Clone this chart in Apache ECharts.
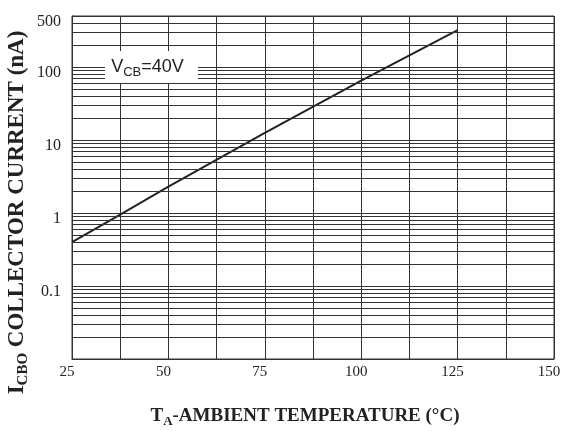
<!DOCTYPE html>
<html>
<head>
<meta charset="utf-8">
<script src="https://cdn.jsdelivr.net/npm/echarts@6/dist/echarts.min.js"></script>
<style>html,body{margin:0;padding:0;background:#fff;}#c{width:561px;height:431px;}</style>
</head>
<body>
<div id="c"></div>
<script>
// Data
var temperature = [25, 37.5, 50, 75, 100, 125];
var currentNA = [0.4, 0.95, 2.3, 12.5, 65, 320];
var yMajorLabels = [500, 100, 10, 1, 0.1];
var xLabels = [25, 50, 75, 100, 125, 150];
var minorGridValues = [];
[0.01, 0.1, 1, 10].forEach(function (d) {
  for (var k = 2; k <= 9; k++) minorGridValues.push(+(d * k).toPrecision(6));
});
[200, 300, 400].forEach(function (v) { minorGridValues.push(v); });
var annotationText = { main: 'V', sub: 'CB', rest: '=40V', x: 45.6, y: 100 };

var GRID = '#333';
var chart = echarts.init(document.getElementById('c'));
chart.setOption({
  animation: false,
  backgroundColor: '#fff',
  grid: { left: 72, right: 7, top: 16, bottom: 72, show: true, borderColor: GRID, borderWidth: 1,
          containLabel: false, outerBoundsMode: 'none' },
  xAxis: {
    type: 'value', min: 25, max: 150, interval: 12.5,
    axisLine: { show: true, lineStyle: { color: GRID, width: 1 } },
    axisTick: { show: false },
    splitLine: { show: true, lineStyle: { color: GRID, width: 1 } },
    axisLabel: {
      color: '#222', fontFamily: 'Liberation Serif', fontSize: 15, margin: 6,
      padding: [0, 10, 0, 0],
      formatter: function (v) { return xLabels.indexOf(v) >= 0 ? String(v) : ''; }
    },
    name: '{m|T}{s|A}{m|-AMBIENT TEMPERATURE (°C)}',
    nameLocation: 'middle', nameGap: 46, nameMoveOverlap: false,
    nameTextStyle: {
      padding: [0, 16, 0, 0],
      rich: {
        m: { fontFamily: 'Liberation Serif', fontSize: 19, fontWeight: 'bold', color: '#222' },
        s: { fontFamily: 'Liberation Serif', fontSize: 13, fontWeight: 'bold', color: '#222', padding: [10, 0, 0, 0] }
      }
    }
  },
  yAxis: {
    type: 'log', logBase: 10, min: 0.01, max: 500,
    axisLine: { show: true, lineStyle: { color: GRID, width: 1 } },
    axisTick: { show: false },
    splitLine: { show: true, lineStyle: { color: GRID, width: 1 } },
    axisLabel: {
      color: '#222', fontFamily: 'Liberation Serif', fontSize: 16, margin: 11,
      verticalAlign: 'top', lineHeight: 12,
      formatter: function (v) {
        var r = parseFloat((+v).toPrecision(6));
        return yMajorLabels.indexOf(r) >= 0 ? String(r) : '';
      }
    },
    name: '{m|I}{s|CBO}{m| COLLECTOR CURRENT (nA)}',
    nameLocation: 'middle', nameGap: 41, nameMoveOverlap: false,
    nameTextStyle: {
      padding: [0, 50, 0, 0],
      rich: {
        m: { fontFamily: 'Liberation Serif', fontSize: 23, fontWeight: 'bold', color: '#222' },
        s: { fontFamily: 'Liberation Serif', fontSize: 15, fontWeight: 'bold', color: '#222', padding: [12, 0, 0, 0] }
      }
    }
  },
  series: [
    {
      type: 'line', data: [], silent: true, z: 1,
      markLine: {
        silent: true, symbol: ['none', 'none'], animation: false,
        label: { show: false },
        lineStyle: { color: GRID, width: 1, type: 'solid' },
        data: minorGridValues.map(function (v) { return { yAxis: v }; })
      }
    },
    {
      type: 'line', z: 3, symbol: 'none', silent: true,
      data: temperature.map(function (t, i) { return [t, currentNA[i]]; }),
      lineStyle: { color: '#222', width: 2 }
    },
    {
      type: 'line', data: [], z: 5, silent: true,
      markPoint: {
        silent: true, animation: false,
        symbol: 'rect', symbolSize: [93, 32],
        itemStyle: { color: '#fff' },
        label: {
          show: true, position: 'inside', offset: [-4, 0],
          formatter: '{m|' + annotationText.main + '}{s|' + annotationText.sub + '}{m|' + annotationText.rest + '}',
          rich: {
            m: { fontFamily: 'Liberation Sans', fontSize: 18, color: '#222' },
            s: { fontFamily: 'Liberation Sans', fontSize: 13, color: '#222', padding: [10, 0, 0, 0] }
          }
        },
        data: [{ coord: [annotationText.x, annotationText.y] }]
      }
    }
  ]
});
</script>
</body>
</html>
